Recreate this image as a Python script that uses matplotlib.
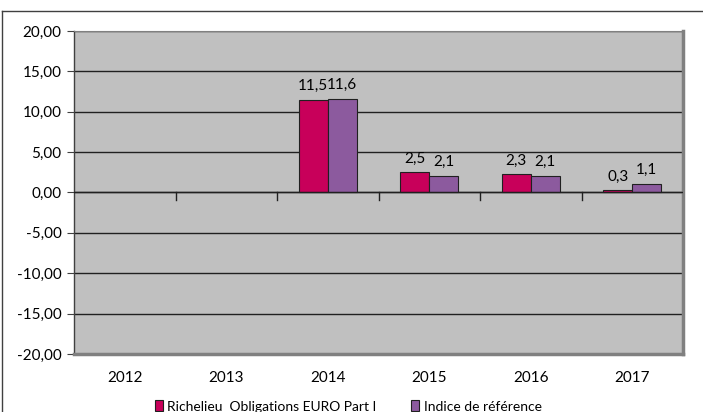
import numpy as np
import matplotlib.pyplot as plt
from matplotlib.patches import Rectangle
from matplotlib.ticker import FuncFormatter

years = ['2012', '2013', '2014', '2015', '2016', '2017']
fonds = [np.nan, np.nan, 11.5, 2.5, 2.3, 0.3]
indice = [np.nan, np.nan, 11.6, 2.1, 2.1, 1.1]
labels = ['Richelieu  Obligations EURO Part I', 'Indice de référence']

plt.rcParams['font.family'] = ['Lato', 'DejaVu Sans']

fig = plt.figure(figsize=(7.03, 4.12), dpi=100)
ax = fig.add_axes([74/703, 1-354/412, (683-74)/703, (354-31)/412])
ax.set_facecolor('#c0c0c0')

# outer frame (top and left only visible)
fig.add_artist(plt.Line2D([2/703, 1], [1-11/412, 1-11/412], color='#404040', lw=1))
fig.add_artist(plt.Line2D([2/703, 2/703], [0, 1-11/412], color='#404040', lw=1))

x = np.arange(len(years))
w = 0.285
b1 = ax.bar(x - w/2, fonds, w, color='#c8005a', edgecolor='#202020', lw=0.8, label=labels[0], zorder=3)
b2 = ax.bar(x + w/2, indice, w, color='#8c5a9e', edgecolor='#202020', lw=0.8, label=labels[1], zorder=3)

for bars, vals in [(b1, fonds), (b2, indice)]:
    for r, v in zip(bars, vals):
        if np.isnan(v):
            continue
        ax.text(r.get_x() + r.get_width()/2, v + 0.8, f'{v:.1f}'.replace('.', ','),
                ha='center', va='bottom', fontsize=11)

ax.set_ylim(-20, 20)
ax.set_xlim(-0.5, len(years) - 0.5)
ax.set_yticks(np.arange(-20, 21, 5))
ax.yaxis.set_major_formatter(FuncFormatter(lambda v, p: f'{v:.2f}'.replace('.', ',')))
ax.yaxis.grid(True, color='#202020', lw=1)
ax.set_axisbelow(True)
ax.tick_params(axis='y', length=5, color='#404040', labelsize=11, pad=4)

# category labels below the plot, ticks on the zero line
ax.set_xticks(x)
ax.set_xticklabels(years, fontsize=11)
ax.tick_params(axis='x', length=0, pad=12)
ax.axhline(0, color='#202020', lw=1, zorder=4)
for b in np.arange(0.5, len(years) - 0.5):
    ax.plot([b, b], [0, -0.9], color='#202020', lw=1, zorder=4)

for s in ['top', 'left']:
    ax.spines[s].set_color('#808080')
for s in ['right', 'bottom']:
    ax.spines[s].set_color('#808080')
    ax.spines[s].set_linewidth(2.5)
ax.spines['left'].set_color('#404040')
ax.spines['left'].set_linewidth(1)

ax.legend(loc='upper center', bbox_to_anchor=(0.45, -0.105), ncol=2, frameon=False,
          fontsize=10, handlelength=0.6, handleheight=0.8, handletextpad=0.3,
          columnspacing=2.5)

fig.savefig('out.png', dpi=100)
